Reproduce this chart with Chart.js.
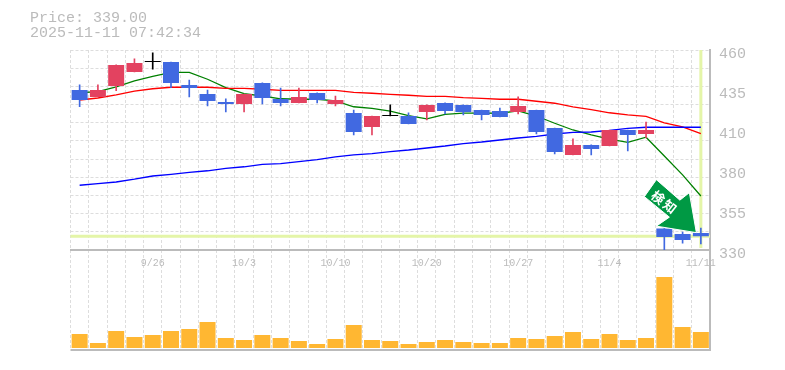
<!DOCTYPE html>
<html>
<head>
<meta charset="utf-8">
<title>Price chart</title>
<script src="https://cdn.jsdelivr.net/npm/chart.js@4/dist/chart.umd.min.js"></script>
<style>
    body { margin: 0; background: #fff; }
    #wrap { position: relative; width: 785px; height: 370px; }
    #head { position: absolute; left: 30px; top: 12px; font: 15px/14.5px "Liberation Mono", monospace; color: #bbb; white-space: pre; }
</style>
</head>
<body>
<div id="wrap">
    <canvas id="myChart" width="785" height="370"></canvas>
    <div id="head">Price: 339.00
2025-11-11 07:42:34</div>
</div>
<script>
const dates = ['9/19','9/22','9/24','9/25','9/26','9/29','9/30','10/1','10/2','10/3','10/6','10/7','10/8','10/9','10/10','10/14','10/15','10/16','10/17','10/20','10/21','10/22','10/23','10/24','10/27','10/28','10/29','10/30','10/31','11/4','11/5','11/6','11/7','11/10','11/11'];
const shownDates = ['9/26','10/3','10/10','10/20','10/27','11/4','11/11'];

const opens  = [434,429.5,436.6,445.7,452.2,452.2,437.3,431.4,426.2,424.9,438.6,428.2,425.6,432.1,424.9,419.1,410,417.1,417.1,419.7,425.6,424.3,421,420.4,419.7,421,409.3,391.8,398.3,397.6,408,405.4,344,340.4,341];
const closes = [427.5,434,450.3,451.5,452.2,438.5,435.3,426.9,424.9,431.4,428.8,425.6,429.5,427.5,427.5,406.7,417.1,417.1,411.9,424.3,420.4,419.7,417.8,416.5,423.6,406.7,393.7,398.3,395.7,408,404.8,408,338.5,336.5,339];
const highs  = [437.3,437.3,450.3,454.2,458.1,452.2,440.5,434,428.2,431.4,438.6,435.3,435.3,432.1,430.1,421,417.1,424.3,419.1,424.3,425.6,424.3,421,422.3,429.5,421,409.3,402.2,398.3,408,408,413.2,344,341.7,344.3];
const lows   = [423.1,429.5,433.5,445.7,447.6,435.5,429.5,423.6,419.7,419.7,424.9,423.6,425.6,425.6,423.6,404.8,404.8,417.1,411.9,414.5,418.4,417.8,414.5,416.5,418.4,405.4,392.4,391.8,391.8,397.6,394.4,402.8,330,334.5,333.9];

const maShort = [432.2,432.9,436.1,439.9,442.9,445.5,445.5,441,435.5,431.6,430.1,428.3,428,428,426.9,423.1,422.1,420.2,417.3,415.3,418.2,419,419,418.9,420.4,417.1,412.4,408,404.8,402,400,403.3,391.1,378.8,365.1];
const maMid   = [427.5,428.8,430.8,433.2,434.8,435.8,435.8,435.8,435.1,435.1,434.5,433.8,433.8,433.8,433.8,432.5,431.9,431.2,430.6,429.9,429.9,429,428.6,428,428,426.7,425.4,423.1,421.2,419.2,417.8,416.9,412.7,410,405.6];
const maLong  = [372.1,373.1,374.2,376,378.1,379.2,380.5,381.5,383.1,384.1,385.7,386.2,387.5,388.8,390.5,391.8,392.7,394,395,396.3,397.6,399.2,400.2,401.5,402.8,403.8,405.4,406.4,406.7,407.7,409,409.8,409.8,409.8,409.8];

const volumes = [14,5,17,11,13,17,19,26,10,8,13,10,7,4,9,23,8,7,4,6,8,6,5,5,10,9,12,16,9,14,8,10,71,21,16];

const lastPrice = 339;
const priceTickValues = [460,434,408,382,356,330];
const priceTickLabels = ['460','435','410','380','355','330'];
const priceGridValues = [330,341.8,353.6,365.5,377.3,389.1,400.9,412.7,424.5,436.4,448.2,460];

const UP = '#e34260';
const DOWN = '#4169e1';
const GRAY = '#bbb';

function candleColor(i) {
    if (closes[i] > opens[i]) return UP;
    if (closes[i] < opens[i]) return DOWN;
    return '#000';
}
const colors = dates.map((d, i) => candleColor(i));

// last price cross in pale green, under the candles
const crossPlugin = {
    id: 'cross',
    beforeDatasetsDraw(chart) {
        const { ctx, chartArea, scales } = chart;
        const py = scales.y.getPixelForValue(lastPrice);
        const px = scales.x.getPixelForValue(dates.length - 1);
        ctx.save();
        ctx.strokeStyle = '#e4f5a8';
        ctx.lineWidth = 3;
        ctx.beginPath();
        ctx.moveTo(chartArea.left, py);
        ctx.lineTo(chartArea.right, py);
        ctx.moveTo(px, chartArea.top);
        ctx.lineTo(px, scales.y.bottom - 2);
        ctx.stroke();
        ctx.restore();
    }
};

// signal arrow, tip anchored on the last candle
const arrowPlugin = {
    id: 'arrow',
    afterDatasetsDraw(chart) {
        const { ctx, scales } = chart;
        const tx = scales.x.getPixelForValue(dates.length - 1) - 5;
        const ty = scales.y.getPixelForValue(lastPrice) - 4;
        const shape = [[-39.5,-52.5],[-16,-32],[-6.5,-39.5],[0.5,0.5],[-39.5,-6],[-26.5,-15],[-51.5,-35.5]];
        ctx.save();
        ctx.translate(tx, ty);
        ctx.beginPath();
        shape.forEach((p, i) => i ? ctx.lineTo(p[0], p[1]) : ctx.moveTo(p[0], p[1]));
        ctx.closePath();
        ctx.fillStyle = '#009944';
        ctx.strokeStyle = '#fff';
        ctx.lineWidth = 1;
        ctx.fill();
        ctx.stroke();
        ctx.fillStyle = '#fff';
        ctx.font = 'bold 13px "Noto Sans CJK JP"';
        ctx.letterSpacing = '2px';
        ctx.textAlign = 'center';
        ctx.textBaseline = 'middle';
        ctx.translate(-31, -29.5);
        ctx.rotate(38 * Math.PI / 180);
        ctx.fillText('検知', 0, 0);
        ctx.restore();
    }
};

function lineSet(data, color) {
    return { type: 'line', data: data, borderColor: color, borderWidth: 1.3, pointRadius: 0, tension: 0, yAxisID: 'y', order: 3 };
}

new Chart(document.getElementById('myChart'), {
    data: {
        labels: dates,
        datasets: [
            lineSet(maLong, '#0000ff'),
            lineSet(maMid, '#ff0000'),
            lineSet(maShort, '#008000'),
            { type: 'bar', data: dates.map((d, i) => [lows[i], highs[i]]), backgroundColor: colors, barThickness: 1, grouped: false, yAxisID: 'y', order: 2 },
            { type: 'bar', data: dates.map((d, i) => [opens[i], closes[i]]), backgroundColor: colors, barPercentage: 0.875, categoryPercentage: 1, minBarLength: 1, grouped: false, yAxisID: 'y', order: 1 },
            { type: 'bar', data: volumes, backgroundColor: '#ffb732', barPercentage: 0.875, categoryPercentage: 1, grouped: false, yAxisID: 'v', order: 1 }
        ]
    },
    options: {
        responsive: false,
        animation: false,
        layout: { padding: { left: 70.5, top: 50, bottom: 20, right: 0 } },
        plugins: { legend: { display: false }, title: { display: false }, tooltip: { enabled: false } },
        scales: {
            x: {
                position: { y: 330 },
                offset: true,
                grid: { offset: true, color: '#ddd', lineWidth: 1, drawTicks: false },
                border: { color: GRAY, width: 2, dash: [3, 2] },
                ticks: {
                    autoSkip: false,
                    maxRotation: 0,
                    padding: 7,
                    color: GRAY,
                    font: { family: '"Liberation Mono", monospace', size: 10 },
                    callback(value) {
                        const label = dates[value];
                        return shownDates.includes(label) ? label : '';
                    }
                }
            },
            y: {
                position: 'right',
                stack: 'panels',
                stackWeight: 2,
                min: 330,
                max: 460,
                afterFit(scale) { scale.width = 75; },
                afterBuildTicks(scale) {
                    const all = [...new Set(priceGridValues.concat(priceTickValues))].sort((a, b) => a - b);
                    scale.ticks = all.map(value => ({ value }));
                },
                grid: {
                    drawTicks: false,
                    lineWidth: 1,
                    color(ctx) { return priceGridValues.includes(ctx.tick.value) ? '#ddd' : 'rgba(0,0,0,0)'; }
                },
                border: { color: GRAY, width: 2, dash: [3, 2] },
                ticks: {
                    autoSkip: false,
                    padding: 9,
                    labelOffset: 4,
                    color: GRAY,
                    font: { family: '"Liberation Mono", monospace', size: 15 },
                    callback(value) {
                        const i = priceTickValues.indexOf(value);
                        return i >= 0 ? priceTickLabels[i] : '';
                    }
                }
            },
            v: {
                position: 'right',
                stack: 'panels',
                stackWeight: 1,
                min: -2,
                max: 98,
                afterFit(scale) { scale.width = 75; },
                afterBuildTicks(scale) { scale.ticks = [{ value: -2 }]; },
                grid: { drawTicks: false, color: GRAY, lineWidth: 2 },
                border: { color: GRAY, width: 2 },
                ticks: { display: false }
            }
        }
    },
    plugins: [crossPlugin, arrowPlugin]
});
</script>
</body>
</html>
